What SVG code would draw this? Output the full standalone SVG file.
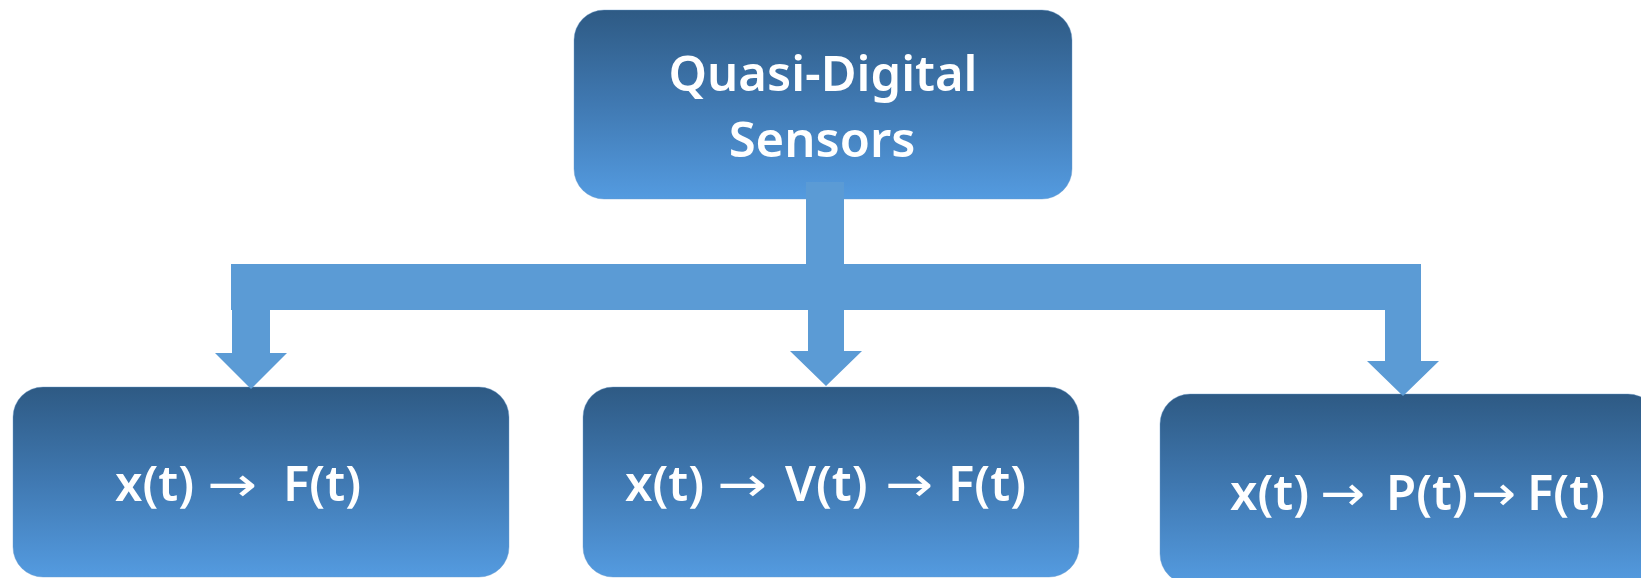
<svg xmlns="http://www.w3.org/2000/svg" width="1641" height="578" viewBox="0 0 1641 578">
<defs>
<linearGradient id="boxGrad" x1="0" y1="0" x2="0" y2="1">
<stop offset="0" stop-color="#2E5A84"/>
<stop offset="0.5" stop-color="#4079B2"/>
<stop offset="1" stop-color="#549BE0"/>
</linearGradient>
<style>
.box{fill:url(#boxGrad);stroke:#6a9ccc;stroke-width:1;stroke-opacity:0.4}
.lbl{font-family:"Noto Sans","Open Sans","DejaVu Sans",sans-serif;font-weight:600;fill:#ffffff}
.top{font-size:49px}
.bot{font-size:49px}
.arr{font-family:"DejaVu Sans",sans-serif;font-weight:400}
.conn{fill:#5B9BD5}
</style>
</defs>
<rect width="1641" height="578" fill="#ffffff"/>
<g id="node-quasi-digital">
<rect class="box" x="574" y="10" width="498" height="189" rx="30"/>
<text class="lbl top" text-anchor="middle"><tspan x="823" y="91">Quasi-Digital</tspan><tspan x="822" y="157">Sensors</tspan></text>
</g>
<g id="node-xt-ft">
<rect class="box" x="13" y="387" width="496" height="190" rx="30"/>
<text class="lbl bot" y="501"><tspan x="115">x(t)</tspan><tspan class="arr" x="207" textLength="50" lengthAdjust="spacingAndGlyphs">→</tspan><tspan x="283">F(t)</tspan></text>
</g>
<g id="node-xt-vt-ft">
<rect class="box" x="583" y="387" width="496" height="190" rx="30"/>
<text class="lbl bot" y="501"><tspan x="625">x(t)</tspan><tspan class="arr" x="717" textLength="50" lengthAdjust="spacingAndGlyphs">→</tspan><tspan x="785">V(t)</tspan><tspan class="arr" x="885" textLength="48" lengthAdjust="spacingAndGlyphs">→</tspan><tspan x="948">F(t)</tspan></text>
</g>
<g id="node-xt-pt-ft">
<rect class="box" x="1160" y="394" width="498" height="190" rx="30"/>
<text class="lbl bot" y="510"><tspan x="1230">x(t)</tspan><tspan class="arr" x="1320" textLength="45" lengthAdjust="spacingAndGlyphs">→</tspan><tspan x="1386">P(t)</tspan><tspan class="arr" x="1471" textLength="45" lengthAdjust="spacingAndGlyphs">→</tspan><tspan x="1527">F(t)</tspan></text>
</g>
<g id="connectors">
<rect class="conn" x="806" y="182" width="38" height="84"/>
<rect class="conn" x="231" y="264" width="1190" height="46"/>
<path class="conn" d="M232,300 H270 V353 H287 L251,389 L215,353 H232 Z"/>
<path class="conn" d="M808,309 H844 V351 H862 L826,386 L790,351 H808 Z"/>
<path class="conn" d="M1385,309 H1421 V361 H1439 L1403,396 L1367,361 H1385 Z"/>
</g>
</svg>
